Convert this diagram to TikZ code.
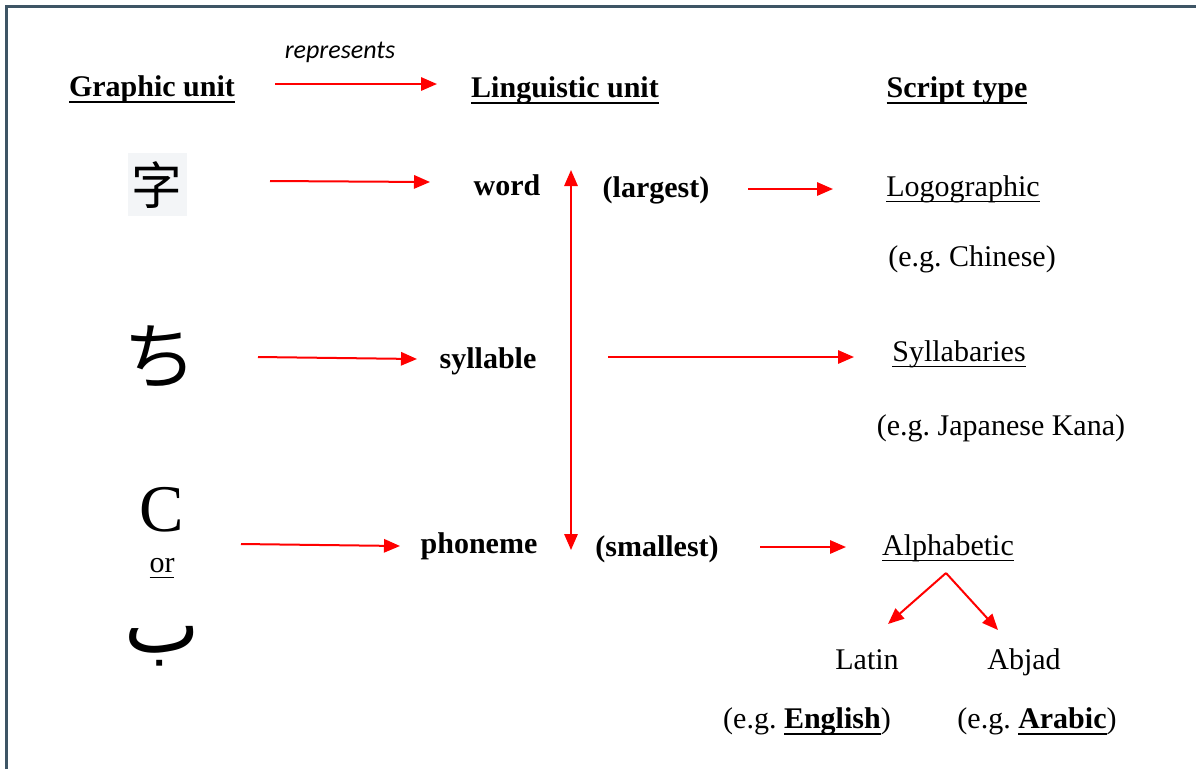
\documentclass[tikz,border=0pt]{standalone}
\usepackage{fontspec}
\setmainfont{Liberation Serif}
\newfontfamily\notefont{Carlito}
\newfontfamily\hanfont{Noto Sans CJK SC}
\newfontfamily\kanafont{Noto Sans CJK JP}
\newfontfamily\arabicfont[Script=Arabic]{DejaVu Sans}
\TeXXeTstate=1
\frenchspacing
\usetikzlibrary{arrows.meta}
\definecolor{framecol}{HTML}{3E5565}
\definecolor{glyphbg}{HTML}{F3F5F7}
% underline drawn a fixed distance under the baseline
\newcommand\ulr[1]{\setbox0\hbox{#1}\rlap{\rule[-4.6pt]{\wd0}{1.1pt}}\box0}
\newcommand\ulb[1]{\setbox0\hbox{#1}\rlap{\rule[-5pt]{\wd0}{1.6pt}}\box0}
\tikzset{
  txt/.style={inner sep=0pt, anchor=base, font=\fontsize{22.5}{27}\selectfont},
  btxt/.style={txt, font=\fontsize{22.5}{27}\selectfont\bfseries},
  link/.style={red, line width=1.5pt, -{Triangle[length=12pt,width=10pt]}},
  both/.style={red, line width=1.5pt, {Triangle[length=12pt,width=10pt]}-{Triangle[length=12pt,width=10pt]}},
}
\begin{document}
\begin{tikzpicture}[x=0.75pt,y=-0.75pt]
\useasboundingbox (0,0) rectangle (1196,769);
% frame
\draw[framecol, line width=1.6pt] (6.5,769) -- (6.5,6.5) -- (1196,6.5);

% headings
\node[btxt] (hgraph) at (152,96) {\ulb{Graphic unit}};
\node[btxt] (hling) at (565,97) {\ulb{Linguistic unit}};
\node[btxt] (hscript) at (957,97) {\ulb{Script type}};
\node[inner sep=0pt, font=\notefont\itshape\fontsize{19.5}{23}\selectfont] (rep) at (340,52) {represents};
\coordinate (ra) at (275,84);
\coordinate (rb) at (437,84);
\draw[link] (ra) -- (rb);

% graphic units
\fill[glyphbg] (128,153) rectangle (187,216);
\node[inner sep=0pt, font=\hanfont\fontsize{38}{40}\selectfont] (zi) at (157,185) {字};
\node[inner sep=0pt, font=\kanafont\fontsize{55}{57}\selectfont] (chi) at (160,357) {ち};
\node[inner sep=0pt, anchor=base, font=\fontsize{50}{52}\selectfont] (cc) at (162,531) {C};
\node[txt] (or) at (162,572) {\ulr{or}};
\node[inner sep=0pt, font=\arabicfont\fontsize{60}{62}\selectfont] (ba) at (162,646) {\beginR ب\endR};

% linguistic units
\node[btxt] (word) at (507,195) {word};
\node[btxt] (syl) at (488,368) {syllable};
\node[btxt] (pho) at (479,553) {phoneme};
\node[btxt] (large) at (656,197) {(largest)};
\node[btxt] (small) at (657,556) {(smallest)};
\coordinate (scaletop) at (571,170);
\coordinate (scalebot) at (571,550);
\draw[both] (scaletop) -- (scalebot);

% script types
\node[txt] (logo) at (963,196) {\ulr{Logographic}};
\node[txt] (chin) at (972,266) {(e.g. Chinese)};
\node[txt] (sylb) at (959,361) {\ulr{Syllabaries}};
\node[txt] (kana) at (1001,435) {(e.g. Japanese Kana)};
\node[txt] (alph) at (948,555) {\ulr{Alphabetic}};
\node[txt] (latin) at (867,669) {Latin};
\node[txt] (abjad) at (1024,669) {Abjad};
\node[txt] (eng) at (807,728) {(e.g. \textbf{\ulb{English}})};
\node[txt] (arab) at (1037,728) {(e.g. \textbf{\ulb{Arabic}})};

% connectors
\draw[link] (270,181) -- (430,182);
\draw[link] (258,357) -- (417,359);
\draw[link] (241,544) -- (400,546);
\draw[link] (748,189) -- (833,189);
\draw[link] (608,357) -- (854,357);
\draw[link] (760,547) -- (846,547);
\coordinate (fork) at (946,573);
\draw[link] (fork) -- (888,624);
\draw[link] (fork) -- (998,630);
\end{tikzpicture}
\end{document}
